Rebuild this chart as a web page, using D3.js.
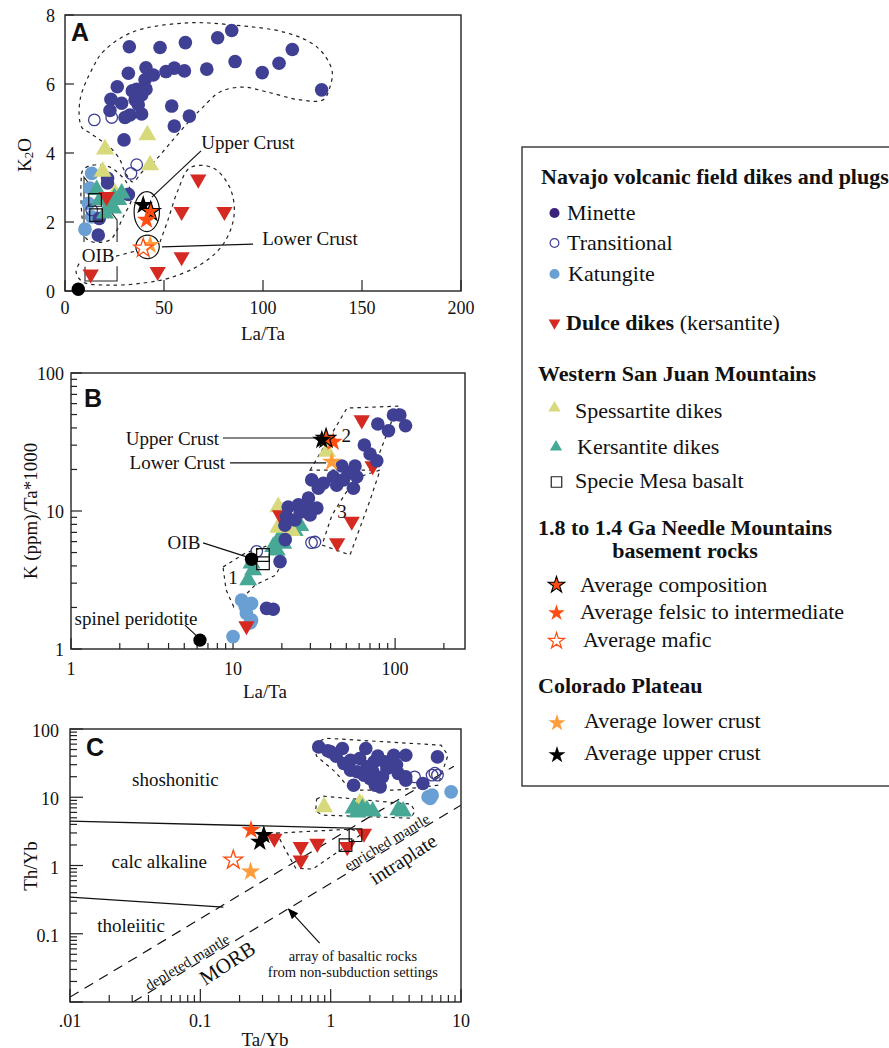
<!DOCTYPE html>
<html><head><meta charset="utf-8">
<script src="https://cdn.jsdelivr.net/npm/d3@7"></script>
<style>
body{margin:0;background:#fff;}
svg{display:block;}
</style></head><body>
<svg id="chart" width="889" height="1048"></svg>
<script>
// ---------------- Panel A : La/Ta vs K2O ----------------
const A_xTicks = [0, 50, 100, 150, 200];
const A_yTicks = [0, 2, 4, 6, 8];
const A_minette = [[32.5,7.08],[48,7.06],[60.8,7.2],[77.1,7.34],[84.2,7.55],[85.9,6.65],[99.6,6.33],[108.1,6.6],[114.8,7.0],[129.6,5.83],[32,6.31],[40.9,6.47],[44.6,6.26],[51,6.36],[55.2,6.46],[60.3,6.38],[71.6,6.43],[40.4,6.12],[26.4,5.92],[36.2,5.85],[40.9,5.85],[38.7,5.68],[35.4,5.54],[23.2,5.56],[28.6,5.44],[22.7,5.23],[32.8,5.1],[38.7,5.13],[30.3,5.03],[53.9,5.36],[62.8,5.07],[55.2,4.78],[29.8,4.38],[21.5,3.27],[21.5,3.13],[32,2.8],[17.3,2.1],[16.8,1.62],[37,5.4],[34,5.8]];
const A_trans = [[14.8,4.96],[23.6,5.03],[36.2,3.66],[33.3,3.41],[13.5,2.35]];
const A_katung = [[13.5,3.41],[12.6,2.98],[11.8,2.54],[10.1,1.79],[13.5,2.15]];
const A_dulce = [[67.3,3.24],[58.9,2.3],[80.5,2.3],[58.9,0.99],[46.8,0.56],[13,0.49],[21,2.73]];
const A_spess = [[41.6,4.52],[20.2,4.11],[43,3.65],[19,3.46],[25.3,2.83]];
const A_kers = [[17.7,2.64],[22.7,2.54],[26.9,2.64],[28.6,2.83],[20.2,2.25],[24.4,2.4],[16,2.93],[25,2.7]];
const A_specie = [[15.2,2.64],[15.7,2.2]];
const A_spinel = [[6.7,0.05]];
const A_upper = [[39.5,2.49]];
const A_comp = [[43.3,2.3]];
const A_felsic = [[41.2,2.06]];
const A_mafic = [[39.5,1.24]];
const A_lower = [[43,1.33]];
const A_envMinette = [[8.4,4.75],[7.6,5.54],[14.3,6.5],[19.3,6.94],[34.3,7.51],[61.6,7.77],[84.8,7.71],[112.1,7.48],[127.3,7.07],[134.8,6.41],[133.8,5.91],[130.3,5.54],[118.7,5.54],[102,5.77],[89.9,5.91],[78.3,5.77],[69.7,5.33],[64.6,5.04],[54.5,4.38],[44.4,3.71],[38.9,3.45],[34.3,3.16],[29.8,3.51],[27.8,3.8],[22.7,4.17],[17.7,4.38],[12.6,4.58]];
const A_envLowK = [[9.1,3.51],[14.1,3.65],[22.7,3.59],[31.3,3.13],[33.8,2.72],[29.3,2.14],[26.3,1.77],[22.7,1.48],[14.1,1.42],[10.1,1.57],[8.6,2.14],[8.1,3.13]];
const A_envDulce = [[48,1.42],[52,2.06],[57.1,2.93],[63.1,3.57],[74.7,3.57],[83.3,2.99],[85.4,2.2],[80.3,1.39],[69.7,0.81],[53,0.38],[39.4,0.23],[22.7,0.17],[9.1,0.26],[5.6,0.55],[7.6,0.84]];
const A_envLink = [[25.8,1.01],[35.9,1.16]];
const A_oibTop = [[9.6,1.42],[9.6,3.3],[26.3,2.06],[26.3,1.42]];
const A_oibBot = [[10.1,0.7],[10.1,0.29],[26.3,0.29],[26.3,0.72]];
const A_ellipses = [{c:[41.3,2.3], r:[6.4,0.58]}, {c:[41.7,1.28], r:[5.9,0.34]}];
const A_leaders = [[[68.7,4.06],[43.9,2.72]], [[95,1.36],[49,1.28]]];
const A_labels = [{t:"Upper Crust", p:[92.4,4.29]}, {t:"Lower Crust", p:[123.7,1.51]}, {t:"OIB", p:[16.7,1.04]}];

// ---------------- Panel B : La/Ta vs K/Ta ----------------
const B_xTicks = [1, 10, 100];
const B_yTicks = [1, 10, 100];
const B_minette = [[97.7,49.6],[91,38.2],[116,41.5],[107,49.6],[78.2,42.7],[64.6,30.1],[70.1,25.9],[77.1,23.1],[46.9,21.2],[56.6,21.2],[58,17.7],[51.5,18.8],[41.6,17.7],[30.6,16.8],[36.1,15.9],[33.6,14.6],[43.6,15.4],[55.3,14.6],[48,16.8],[29.2,12.4],[32.9,10.5],[25.3,11.1],[21.9,10.7],[29.9,9.36],[21.4,9.1],[28.5,10.7],[19.5,4.3],[16.1,1.97],[17.7,1.94],[20.9,7.9],[24.1,8.6],[26,9.8],[21,6.2]];
const B_trans = [[14,5.1],[32,5.96],[30.5,5.9]];
const B_katung = [[11.9,2.03],[13,2.14],[12.1,1.81],[13,1.62],[10,1.23],[11.3,2.26],[12.8,1.55]];
const B_dulce = [[62.3,45.6],[72.7,21.2],[54,8.4],[43.9,5.87],[12.1,1.47],[19.5,9.35]];
const B_spess = [[19,10.7],[19,7.6],[38,27],[23,7.2]];
const B_kers = [[12.4,3.16],[13.3,3.73],[13,4.17],[18.6,5.2],[19.5,6.5],[17.7,5.5],[20.4,5.8],[26,7.8],[24,7.2]];
const B_specie = [[15.3,4.8],[15.3,4.18]];
const B_dots = [[13,4.47],[6.25,1.16]];
const B_upper = [[35.3,32.7]];
const B_comp = [[37.5,33.5]];
const B_felsic = [[41.5,31.7]];
const B_lower = [[40.6,22.7]];
const B_fields = [
  [[8.67,3.93],[11.9,4.96],[16.9,5.67],[20.4,4.42],[18.4,3.44],[13.7,2.91],[10.1,2.02],[9.06,2.68]],
  [[29.9,19.8],[50.5,55.7],[107,57.6],[95.8,45.6],[73.1,19.8],[43.9,19.8]],
  [[56.6,17.3],[80.8,19.8],[70.1,12.0],[52.7,4.8],[35.4,5.67],[40.8,9.35]]
];
const B_fieldLabels = [{t:"1", p:[10,3.32]}, {t:"2", p:[49.9,35.5]}, {t:"3", p:[47.1,9.84]}];
const B_leaders = [[[8.67,33.8],[33.5,33.8]], [[9.58,22.3],[37.5,22.3]], [[6.53,5.87],[12.7,4.57]], [[5.05,1.49],[6.08,1.22]]];
const B_labels = [{t:"Upper Crust", p:[8.2,33.8], a:"end"}, {t:"Lower Crust", p:[8.93,22.3], a:"end"}, {t:"OIB", p:[4.98,5.87], a:"middle"}, {t:"spinel peridotite", p:[2.52,1.65], a:"middle"}];

// ---------------- Panel C : Ta/Yb vs Th/Yb ----------------
const C_xTicks = [0.01, 0.1, 1, 10];
const C_xTickLabels = [".01", "0.1", "1", "10"];
const C_yTicks = [0.1, 1, 10, 100];
const C_yTickLabels = ["0.1", "1", "10", "100"];
const C_minette = [[0.81,54.7],[1.0,46.2],[1.23,51.8],[1.86,51.8],[1.42,34.9],[1.26,31.2],[1.67,37],[2.15,33],[2.6,33],[2.9,29.5],[3.05,41.3],[3.77,41.3],[1.42,24.9],[1.6,23.6],[1.8,21.1],[1.5,15],[2.0,18.8],[2.2,15],[2.5,19.9],[2.7,26.4],[3.3,22.4],[3.77,19.9],[3.77,17.8],[5.1,15.9],[6.6,39],[2.4,14.2],[1.1,40],[0.95,48],[2.3,40],[1.9,28],[3.2,30],[2.1,24]];
const C_trans = [[4.4,19.9],[6.0,21.1],[6.6,21.1],[6.3,22.5]];
const C_katung = [[6.0,10.7],[5.6,10.1],[8.4,12.0],[5.8,9.6]];
const C_spess = [[0.89,7.2],[1.67,8.1],[1.75,7.6]];
const C_kers = [[1.5,6.9],[1.9,6.5],[2.1,6.2],[3.3,6.5],[3.6,6.2],[1.6,6.0],[1.75,6.8]];
const C_dulce = [[0.37,2.5],[0.59,1.88],[0.79,2.1],[0.59,1.2],[1.8,2.95],[1.34,1.88]];
const C_specie = [[1.55,2.78],[1.3,1.99]];
const C_felsic = [[0.245,3.3]];
const C_comp = [[0.307,2.79]];
const C_upper = [[0.286,2.22]];
const C_mafic = [[0.179,1.2]];
const C_lower = [[0.243,0.81]];
const C_envs = [
  [[0.74,59.9],[0.916,73.3],[7.02,57.9],[7.94,41.3],[6.65,15.0],[3.16,12.7],[1.43,12.7],[1.09,23.3],[0.78,40]],
  [[0.78,9.38],[0.867,10.4],[4.12,7.93],[4.43,6.25],[4.12,4.94],[0.867,5.47],[0.767,6.25]],
  [[0.385,2.98],[1.43,3.41],[1.76,2.98],[1.19,1.68],[0.728,0.885],[0.538,0.918],[0.451,1.68]]
];
const C_solid = [[[0.01,4.47],[1.43,3.53]], [[0.01,0.344],[0.15,0.246]]];
const C_array = [[[0.01,0.0118],[8.83,28.5]], [[0.0305,0.01],[10,7.66]]];
const C_arrow = [[0.823,0.073],[0.475,0.23]];
const C_labels = [
  {t:"shoshonitic", p:[0.0643,18.4], s:19, r:0},
  {t:"calc alkaline", p:[0.0484,1.16], s:19, r:0},
  {t:"tholeiitic", p:[0.0294,0.13], s:19, r:0},
  {t:"MORB", p:[0.161,0.037], s:21, r:-33},
  {t:"depleted mantle", p:[0.0794,0.0385], s:15, r:-31},
  {t:"enriched mantle", p:[2.7,2.2], s:15, r:-31},
  {t:"intraplate", p:[3.58,1.24], s:20, r:-33},
  {t:"array of basaltic rocks", p:[1.48,0.047], s:14.5, r:0},
  {t:"from non-subduction settings", p:[1.48,0.0275], s:14.5, r:0}
];

// ---------------- styles ----------------
const SERIF = '"Liberation Serif","Times New Roman",serif';
const SANS = '"Liberation Sans",Arial,sans-serif';
const COL = {minette:"#3f3f93", legMinette:"#3a2379", katung:"#6a9fd3", dulce:"#d52a22", spess:"#d8d97b", kers:"#47a995", felsic:"#ff4c10", lower:"#ff9c3c"};
const STYLE = {
  minette:{type:d3.symbolCircle,size:145,fill:COL.minette},
  trans:{type:d3.symbolCircle,size:105,fill:"none",stroke:COL.minette,sw:1.3},
  katung:{type:d3.symbolCircle,size:150,fill:COL.katung},
  dulce:{type:d3.symbolTriangle,size:115,fill:COL.dulce,rot:180},
  spess:{type:d3.symbolTriangle,size:140,fill:COL.spess},
  kers:{type:d3.symbolTriangle,size:140,fill:COL.kers},
  specie:{type:d3.symbolSquare,size:160,fill:"none",stroke:"#111",sw:1.2},
  comp:{type:d3.symbolStar,size:115,fill:COL.felsic,stroke:"#000",sw:1.2},
  felsic:{type:d3.symbolStar,size:115,fill:COL.felsic},
  mafic:{type:d3.symbolStar,size:110,fill:"#fff",stroke:COL.felsic,sw:1.3},
  lower:{type:d3.symbolStar,size:115,fill:COL.lower},
  upper:{type:d3.symbolStar,size:115,fill:"#000"},
  dot:{type:d3.symbolCircle,size:140,fill:"#000"}
};

const svg = d3.select("#chart");
svg.append("rect").attr("width",889).attr("height",1048).attr("fill","#fff");
const defs = svg.append("defs");
defs.append("marker").attr("id","arrowhead").attr("viewBox","0 0 10 10").attr("refX",9).attr("refY",5)
  .attr("markerWidth",9).attr("markerHeight",9).attr("orient","auto-start-reverse")
  .append("path").attr("d","M0,1 L10,5 L0,9 Z").attr("fill","#000");

function pts(g, data, sx, sy, st){
  g.append("g").selectAll("path").data(data).join("path")
    .attr("d", d3.symbol().type(st.type).size(st.size))
    .attr("transform", d => `translate(${sx(d[0])},${sy(d[1])})` + (st.rot ? ` rotate(${st.rot})` : ""))
    .attr("fill", st.fill).attr("stroke", st.stroke || "none").attr("stroke-width", st.sw || 0);
}
function text(g, x, y, s, o={}){
  return g.append("text").attr("x",x).attr("y",y).text(s)
    .attr("font-family", o.ff || SERIF).attr("font-size", o.size || 19)
    .attr("font-weight", o.bold ? "bold" : "normal")
    .attr("text-anchor", o.anchor || "middle").attr("dominant-baseline", o.base || "central")
    .attr("fill", "#111");
}
function frame(g, sx, sy){
  const [x0,x1] = sx.range(), [y0,y1] = sy.range();
  g.append("rect").attr("x",x0).attr("y",y1).attr("width",x1-x0).attr("height",y0-y1)
    .attr("fill","none").attr("stroke","#222").attr("stroke-width",1.4);
}
function clip(id, sx, sy){
  const [x0,x1] = sx.range(), [y0,y1] = sy.range();
  defs.append("clipPath").attr("id",id).append("rect").attr("x",x0).attr("y",y1).attr("width",x1-x0).attr("height",y0-y1);
}
function logVals(lo, hi){
  const out = [];
  for(let e = Math.floor(Math.log10(lo)); e <= Math.ceil(Math.log10(hi)); e++)
    for(let m = 1; m < 10; m++){ const v = m*Math.pow(10,e); if(v >= lo*0.999 && v <= hi*1.001) out.push({v, major:m===1}); }
  return out;
}
const dashEnv = "3.5,4";

// ================= Panel A =================
const xA = d3.scaleLinear([0,200],[65,461]);
const yA = d3.scaleLinear([0,8],[291,15]);
clip("clipA", xA, yA);
{
  const g = svg.append("g");
  A_xTicks.forEach(v => {
    g.append("line").attr("x1",xA(v)).attr("x2",xA(v)).attr("y1",yA(0)).attr("y2",yA(0)-11).attr("stroke","#222").attr("stroke-width",1.2);
    text(g, xA(v), 308, String(v), {size:18});
  });
  A_yTicks.forEach(v => {
    g.append("line").attr("x1",xA(0)).attr("x2",xA(0)+9).attr("y1",yA(v)).attr("y2",yA(v)).attr("stroke","#222").attr("stroke-width",1.2);
    text(g, 55, yA(v)+1, String(v), {size:18, anchor:"end"});
  });
  text(g, 263, 333, "La/Ta", {size:19});
  const kt = g.append("text").attr("transform","translate(24,155) rotate(-90)").attr("text-anchor","middle")
    .attr("font-family",SERIF).attr("font-size",19).attr("fill","#111").attr("dominant-baseline","central");
  kt.append("tspan").text("K");
  kt.append("tspan").text("2").attr("font-size",13).attr("dy",4);
  kt.append("tspan").text("O").attr("dy",-4);

  const inner = g.append("g").attr("clip-path","url(#clipA)");
  const lineA = d3.line().x(d=>xA(d[0])).y(d=>yA(d[1]));
  inner.append("path").attr("d", lineA.curve(d3.curveCatmullRomClosed)(A_envMinette)).attr("fill","none").attr("stroke","#222").attr("stroke-width",1.2).attr("stroke-dasharray",dashEnv);
  inner.append("path").attr("d", lineA.curve(d3.curveCatmullRomClosed)(A_envLowK)).attr("fill","none").attr("stroke","#222").attr("stroke-width",1.2).attr("stroke-dasharray",dashEnv);
  inner.append("path").attr("d", lineA.curve(d3.curveCatmullRom)(A_envDulce)).attr("fill","none").attr("stroke","#222").attr("stroke-width",1.2).attr("stroke-dasharray",dashEnv);
  inner.append("path").attr("d", lineA.curve(d3.curveLinear)(A_envLink)).attr("fill","none").attr("stroke","#222").attr("stroke-width",1.2).attr("stroke-dasharray",dashEnv);
  [A_oibTop, A_oibBot].forEach(p => inner.append("path").attr("d", lineA.curve(d3.curveLinear)(p)).attr("fill","none").attr("stroke","#222").attr("stroke-width",1.1));

  pts(inner, A_katung, xA, yA, STYLE.katung);
  pts(inner, A_minette, xA, yA, STYLE.minette);
  pts(inner, A_trans, xA, yA, STYLE.trans);
  pts(inner, A_spess, xA, yA, STYLE.spess);
  pts(inner, A_kers, xA, yA, STYLE.kers);
  pts(inner, A_dulce, xA, yA, STYLE.dulce);
  pts(inner, A_specie, xA, yA, STYLE.specie);
  A_ellipses.forEach(e => inner.append("ellipse").attr("cx",xA(e.c[0])).attr("cy",yA(e.c[1]))
    .attr("rx",xA(e.c[0]+e.r[0])-xA(e.c[0])).attr("ry",yA(e.c[1])-yA(e.c[1]+e.r[1]))
    .attr("fill","none").attr("stroke","#111").attr("stroke-width",1.2));
  pts(inner, A_upper, xA, yA, STYLE.upper);
  pts(inner, A_comp, xA, yA, STYLE.comp);
  pts(inner, A_felsic, xA, yA, STYLE.felsic);
  pts(inner, A_lower, xA, yA, STYLE.lower);
  pts(inner, A_mafic, xA, yA, STYLE.mafic);
  A_leaders.forEach(l => inner.append("path").attr("d", lineA.curve(d3.curveLinear)(l)).attr("stroke","#111").attr("stroke-width",1.2).attr("fill","none"));
  A_labels.forEach(l => text(g, xA(l.p[0]), yA(l.p[1]), l.t, {size:19}));
  frame(g, xA, yA);
  pts(g, A_spinel, xA, yA, STYLE.dot);
  text(g, 80, 32, "A", {ff:SANS, bold:true, size:25});
}

// ================= Panel B =================
const xB = d3.scaleLog([1,270],[71,465]);
const yB = d3.scaleLog([1,100],[649,373]);
clip("clipB", xB, yB);
{
  const g = svg.append("g");
  logVals(1,270).forEach(t => {
    const L = t.major ? 11 : 6;
    g.append("line").attr("x1",xB(t.v)).attr("x2",xB(t.v)).attr("y1",649).attr("y2",649-L).attr("stroke","#222").attr("stroke-width",1.2);
  });
  logVals(1,100).forEach(t => {
    const L = t.major ? 11 : 6;
    g.append("line").attr("x1",71).attr("x2",71+L).attr("y1",yB(t.v)).attr("y2",yB(t.v)).attr("stroke","#222").attr("stroke-width",1.2);
  });
  B_xTicks.forEach(v => text(g, xB(v), 669, String(v), {size:18}));
  B_yTicks.forEach(v => text(g, 64, yB(v)+1, String(v), {size:18, anchor:"end"}));
  text(g, 265, 691, "La/Ta", {size:19});
  g.append("text").attr("transform","translate(30,511) rotate(-90)").attr("text-anchor","middle").attr("dominant-baseline","central")
    .attr("font-family",SERIF).attr("font-size",19).attr("fill","#111").text("K (ppm)/Ta*1000");

  const inner = g.append("g").attr("clip-path","url(#clipB)");
  const lineB = d3.line().x(d=>xB(d[0])).y(d=>yB(d[1]));
  B_fields.forEach(f => inner.append("path").attr("d", lineB.curve(d3.curveLinearClosed)(f)).attr("fill","none").attr("stroke","#222").attr("stroke-width",1.2).attr("stroke-dasharray",dashEnv));
  B_leaders.forEach(l => inner.append("path").attr("d", lineB.curve(d3.curveLinear)(l)).attr("stroke","#111").attr("stroke-width",1.2).attr("fill","none"));
  pts(inner, B_katung, xB, yB, STYLE.katung);
  pts(inner, B_kers, xB, yB, STYLE.kers);
  pts(inner, B_spess, xB, yB, STYLE.spess);
  pts(inner, B_dulce, xB, yB, STYLE.dulce);
  pts(inner, B_minette, xB, yB, STYLE.minette);
  pts(inner, B_trans, xB, yB, STYLE.trans);
  pts(inner, B_specie, xB, yB, STYLE.specie);
  pts(inner, B_dots, xB, yB, STYLE.dot);
  pts(inner, B_lower, xB, yB, STYLE.lower);
  pts(inner, B_felsic, xB, yB, STYLE.felsic);
  pts(inner, B_comp, xB, yB, STYLE.comp);
  pts(inner, B_upper, xB, yB, STYLE.upper);
  B_fieldLabels.forEach(l => text(g, xB(l.p[0]), yB(l.p[1]), l.t, {size:19}));
  B_labels.forEach(l => text(g, xB(l.p[0]), yB(l.p[1]), l.t, {size:19, anchor:l.a}));
  frame(g, xB, yB);
  text(g, 93, 398, "B", {ff:SANS, bold:true, size:25});
}

// ================= Panel C =================
const xC = d3.scaleLog([0.01,10],[70,461]);
const yC = d3.scaleLog([0.01,100],[1002,729]);
clip("clipC", xC, yC);
{
  const g = svg.append("g");
  logVals(0.01,10).forEach(t => {
    const L = t.major ? 13 : 7;
    g.append("line").attr("x1",xC(t.v)).attr("x2",xC(t.v)).attr("y1",1002).attr("y2",1002-L).attr("stroke","#222").attr("stroke-width",1.2);
  });
  logVals(0.01,100).forEach(t => {
    const L = t.major ? 13 : 7;
    g.append("line").attr("x1",70).attr("x2",70+L).attr("y1",yC(t.v)).attr("y2",yC(t.v)).attr("stroke","#222").attr("stroke-width",1.2);
  });
  C_xTicks.forEach((v,i) => text(g, xC(v), 1021, C_xTickLabels[i], {size:18}));
  C_yTicks.forEach((v,i) => text(g, 59, yC(v)+2, C_yTickLabels[i], {size:18, anchor:"end"}));
  text(g, 265, 1039, "Ta/Yb", {size:19});
  g.append("text").attr("transform","translate(30,866) rotate(-90)").attr("text-anchor","middle").attr("dominant-baseline","central")
    .attr("font-family",SERIF).attr("font-size",19).attr("fill","#111").text("Th/Yb");

  const inner = g.append("g").attr("clip-path","url(#clipC)");
  const lineC = d3.line().x(d=>xC(d[0])).y(d=>yC(d[1]));
  C_solid.forEach(l => inner.append("path").attr("d", lineC(l)).attr("stroke","#111").attr("stroke-width",1.3).attr("fill","none"));
  C_array.forEach(l => inner.append("path").attr("d", lineC(l)).attr("stroke","#111").attr("stroke-width",1.2).attr("fill","none").attr("stroke-dasharray","10,7"));
  C_envs.forEach(f => inner.append("path").attr("d", lineC.curve(d3.curveLinearClosed)(f)).attr("fill","none").attr("stroke","#222").attr("stroke-width",1.2).attr("stroke-dasharray",dashEnv));
  inner.append("path").attr("d", d3.line().x(d=>xC(d[0])).y(d=>yC(d[1]))(C_arrow)).attr("stroke","#111").attr("stroke-width",1.2).attr("fill","none").attr("marker-end","url(#arrowhead)");
  pts(inner, C_katung, xC, yC, STYLE.katung);
  pts(inner, C_minette, xC, yC, STYLE.minette);
  pts(inner, C_trans, xC, yC, STYLE.trans);
  pts(inner, C_spess, xC, yC, STYLE.spess);
  pts(inner, C_kers, xC, yC, STYLE.kers);
  pts(inner, C_dulce, xC, yC, STYLE.dulce);
  pts(inner, C_specie, xC, yC, STYLE.specie);
  pts(inner, C_felsic, xC, yC, STYLE.felsic);
  pts(inner, C_comp, xC, yC, STYLE.upper);
  pts(inner, C_upper, xC, yC, STYLE.upper);
  pts(inner, C_mafic, xC, yC, STYLE.mafic);
  pts(inner, C_lower, xC, yC, STYLE.lower);
  C_labels.forEach(l => {
    g.append("text").attr("transform",`translate(${xC(l.p[0])},${yC(l.p[1])}) rotate(${l.r})`)
      .attr("text-anchor","middle").attr("dominant-baseline","central")
      .attr("font-family",SERIF).attr("font-size",l.s).attr("fill","#111").text(l.t);
  });
  frame(g, xC, yC);
  text(g, 95, 747, "C", {ff:SANS, bold:true, size:25});
}

// ================= Legend =================
const legendRows = [
  {kind:"head", text:"Navajo volcanic field dikes and plugs", x:541, y:184},
  {kind:"item", mark:"legMinette", mx:554.5, my:213, text:"Minette", tx:567, y:220},
  {kind:"item", mark:"legTrans", mx:554.5, my:243, text:"Transitional", tx:567, y:250},
  {kind:"item", mark:"legKatung", mx:554.5, my:274, text:"Katungite", tx:568, y:281},
  {kind:"dulce", mark:"legDulce", mx:554.5, my:323, bold:"Dulce dikes", text:" (kersantite)", tx:566, y:330},
  {kind:"head", text:"Western San Juan Mountains", x:538, y:381},
  {kind:"item", mark:"legSpess", mx:554.5, my:408, text:"Spessartite dikes", tx:575, y:418},
  {kind:"item", mark:"legKers", mx:556, my:447, text:"Kersantite dikes", tx:577, y:454},
  {kind:"item", mark:"legSpecie", mx:556.5, my:482, text:"Specie Mesa basalt", tx:575, y:488},
  {kind:"head", text:"1.8 to 1.4 Ga Needle Mountains", x:538, y:535},
  {kind:"headc", text:"basement rocks", x:685, y:558},
  {kind:"item", mark:"legComp", mx:556.5, my:585, text:"Average composition", tx:580, y:592},
  {kind:"item", mark:"legFelsic", mx:556.5, my:613, text:"Average felsic to intermediate", tx:580, y:619},
  {kind:"item", mark:"legMafic", mx:556.5, my:641, text:"Average mafic", tx:583, y:647},
  {kind:"head", text:"Colorado Plateau", x:538, y:693},
  {kind:"item", mark:"legLower", mx:557, my:723, text:"Average lower crust", tx:584, y:728},
  {kind:"item", mark:"legUpper", mx:557, my:755, text:"Average upper crust", tx:584, y:760}
];
const LEG = {
  legMinette:{type:d3.symbolCircle,size:80,fill:COL.legMinette},
  legTrans:{type:d3.symbolCircle,size:60,fill:"#fff",stroke:COL.minette,sw:1.2},
  legKatung:{type:d3.symbolCircle,size:80,fill:COL.katung},
  legDulce:{type:d3.symbolTriangle,size:60,fill:COL.dulce,rot:180},
  legSpess:{type:d3.symbolTriangle,size:65,fill:COL.spess},
  legKers:{type:d3.symbolTriangle,size:65,fill:COL.kers},
  legSpecie:{type:d3.symbolSquare,size:110,fill:"#fff",stroke:"#222",sw:1.2},
  legComp:{type:d3.symbolStar,size:85,fill:COL.felsic,stroke:"#000",sw:1.1},
  legFelsic:{type:d3.symbolStar,size:85,fill:COL.felsic},
  legMafic:{type:d3.symbolStar,size:80,fill:"#fff",stroke:COL.felsic,sw:1.2},
  legLower:{type:d3.symbolStar,size:90,fill:COL.lower},
  legUpper:{type:d3.symbolStar,size:90,fill:"#000"}
};
{
  const g = svg.append("g");
  g.append("rect").attr("x",522).attr("y",147).attr("width",400).attr("height",639).attr("fill","#fff").attr("stroke","#333").attr("stroke-width",1.4);
  legendRows.forEach(r => {
    if(r.kind === "head" || r.kind === "headc"){
      text(g, r.x, r.y, r.text, {size:22, bold:true, anchor: r.kind==="headc" ? "middle" : "start", base:"alphabetic"});
      return;
    }
    const st = LEG[r.mark];
    g.append("path").attr("d", d3.symbol().type(st.type).size(st.size)())
      .attr("transform", `translate(${r.mx},${r.my})` + (st.rot ? ` rotate(${st.rot})` : ""))
      .attr("fill", st.fill).attr("stroke", st.stroke || "none").attr("stroke-width", st.sw || 0);
    const t = g.append("text").attr("x", r.tx).attr("y", r.y).attr("font-family",SERIF).attr("font-size",22).attr("fill","#111");
    if(r.kind === "dulce") t.append("tspan").attr("font-weight","bold").text(r.bold);
    t.append("tspan").text(r.text);
  });
}
</script>
</body></html>
